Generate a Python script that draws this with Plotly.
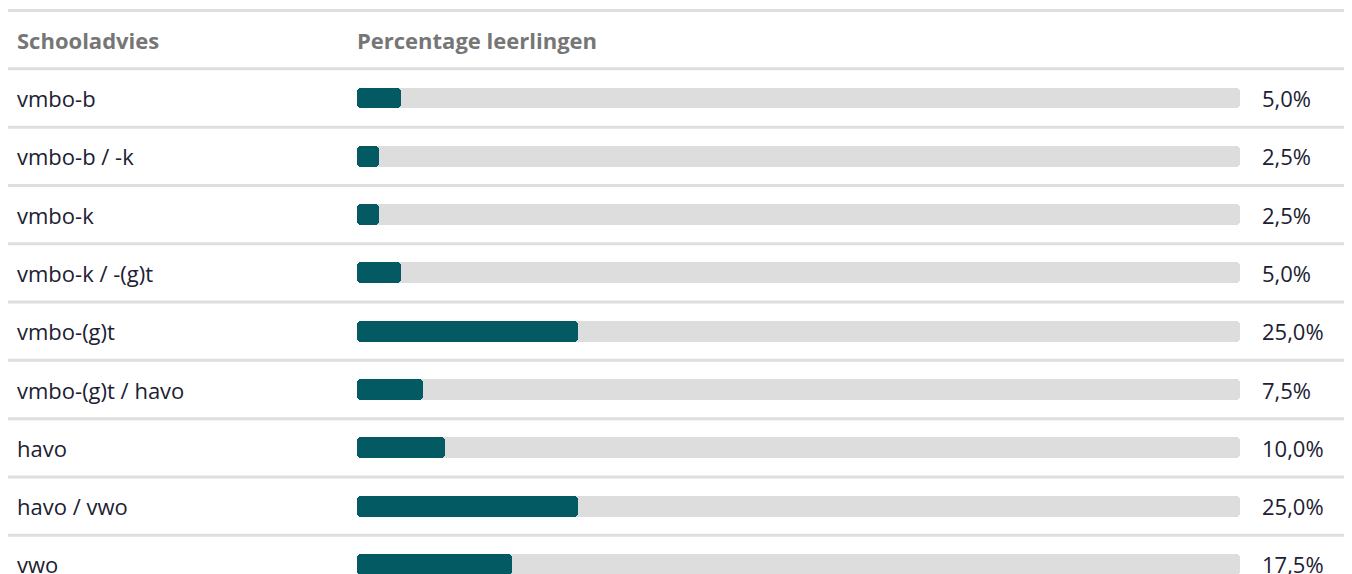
import plotly.graph_objects as go

categories = ["vmbo-b", "vmbo-b / -k", "vmbo-k", "vmbo-k / -(g)t", "vmbo-(g)t",
              "vmbo-(g)t / havo", "havo", "havo / vwo", "vwo"]
values = [5.0, 2.5, 2.5, 5.0, 25.0, 7.5, 10.0, 25.0, 17.5]
track_max = 100
header_left = "Schooladvies"
header_right = "Percentage leerlingen"

W, H = 1352, 574
OFF = 8  # page body margin
PITCH = 58.3
FONT = "Open Sans"
TEAL = "#035a63"
TRACK = "#dddddd"
SEP = "#dedede"
TEXT = "#1c2133"
HEAD = "#767676"

idx = list(range(len(categories)))
n = len(categories)

fig = go.Figure()
# bars with an explicit base get all four corners rounded
fig.add_trace(go.Bar(
    x=[track_max] * n, base=[0] * n, y=idx, orientation="h", width=0.36,
    marker=dict(color=TRACK, cornerradius=4, line=dict(width=0)),
    hoverinfo="skip", showlegend=False))
fig.add_trace(go.Bar(
    x=values, base=[0] * n, y=idx, orientation="h", width=0.36,
    marker=dict(color=TEAL, cornerradius=4, line=dict(width=0)),
    customdata=categories, showlegend=False,
    hovertemplate="%{customdata}: %{x}%<extra></extra>"))

ann = []
for txt, px in ((header_left, 17), (header_right, 357)):
    ann.append(dict(x=(px - OFF - 2) / W, y=-1, xref="paper", yref="y", text=txt,
                    showarrow=False, xanchor="left", yanchor="middle",
                    font=dict(family=FONT, size=22, color=HEAD, weight=700)))
for i, (c, v) in enumerate(zip(categories, values)):
    ann.append(dict(x=(17 - OFF - 2) / W, y=i, xref="paper", yref="y", text=c,
                    showarrow=False, xanchor="left", yanchor="middle",
                    font=dict(family=FONT, size=22, color=TEXT)))
    ann.append(dict(x=(1262 - OFF - 2) / W, y=i, xref="paper", yref="y",
                    text=f"{v:.1f}".replace(".", ",") + "%",
                    showarrow=False, xanchor="left", yanchor="middle",
                    font=dict(family=FONT, size=22, color=TEXT)))

shapes = []
for k in range(-1, n + 1):
    shapes.append(dict(type="line", xref="paper", yref="y",
                       x0=(5 - OFF) / W, x1=1, y0=k - 0.5, y1=k - 0.5,
                       line=dict(color=SEP, width=3), layer="below"))

row0 = 98 - OFF
fig.update_layout(
    width=W, height=H, margin=dict(l=0, r=0, t=0, b=0),
    paper_bgcolor="white", plot_bgcolor="white",
    barmode="overlay", bargap=0,
    xaxis=dict(domain=[(357 - OFF) / W, (1240 - OFF) / W], range=[0, track_max],
               visible=False, fixedrange=True),
    yaxis=dict(range=[(H - row0) / PITCH, -row0 / PITCH], visible=False,
               fixedrange=True),
    annotations=ann, shapes=shapes,
)

fig.write_html("out.html")
